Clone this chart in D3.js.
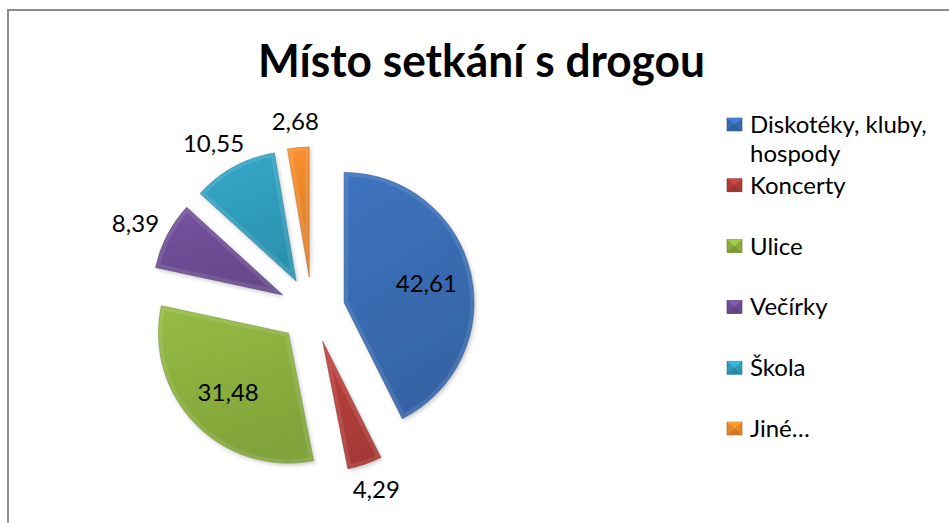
<!DOCTYPE html>
<html>
<head>
<meta charset="utf-8">
<script src="https://cdn.jsdelivr.net/npm/d3@7"></script>
<style>
  html, body { margin: 0; padding: 0; background: #fff; }
  svg { display: block; font-family: Lato, "Open Sans", sans-serif; }
</style>
</head>
<body>
<script>
// data
const categories = ["Diskotéky, kluby, hospody", "Koncerty", "Ulice", "Večírky", "Škola", "Jiné…"];
const values = [42.61, 4.29, 31.48, 8.39, 10.55, 2.68];
const labels = ["42,61", "4,29", "31,48", "8,39", "10,55", "2,68"];
const legendLines = [["Diskotéky, kluby,", "hospody"], ["Koncerty"], ["Ulice"], ["Večírky"], ["Škola"], ["Jiné…"]];
const colors = ["#3a6db4", "#b43e3a", "#8db23f", "#6f4f97", "#30a0bf", "#f08a2c"];
const insideLabels = [true, false, true, false, false, false];

const width = 949, height = 523;
const cx = 312, cy = 310, radius = 130, explode = 33;

const svg = d3.select("body").append("svg")
    .attr("width", width)
    .attr("height", height);

const defs = svg.append("defs");

const shadow = defs.append("filter").attr("id", "shadow")
    .attr("x", "-20%").attr("y", "-20%").attr("width", "140%").attr("height", "140%");
shadow.append("feDropShadow")
    .attr("dx", 1.5).attr("dy", 2).attr("stdDeviation", 2)
    .attr("flood-color", "#000").attr("flood-opacity", 0.22);

// chart frame
svg.append("rect")
    .attr("x", 8).attr("y", 10)
    .attr("width", 1000).attr("height", 700)
    .attr("fill", "none")
    .attr("stroke", "#8c8c8c")
    .attr("stroke-width", 2);

// title
svg.append("text")
    .attr("x", 481.5).attr("y", 77)
    .attr("text-anchor", "middle")
    .attr("font-weight", 700)
    .attr("font-size", 46)
    .attr("textLength", 447)
    .attr("lengthAdjust", "spacingAndGlyphs")
    .text("Místo setkání s drogou");

const pie = d3.pie().sort(null).value(d => d)(values);
const arc = d3.arc().innerRadius(0).outerRadius(radius);

// gradient per slice to fake the bevel
colors.forEach((c, i) => {
  const g = defs.append("linearGradient").attr("id", "grad" + i)
      .attr("x1", "0%").attr("y1", "0%").attr("x2", "30%").attr("y2", "100%");
  g.append("stop").attr("offset", "0%").attr("stop-color", d3.color(c).brighter(0.15));
  g.append("stop").attr("offset", "100%").attr("stop-color", d3.color(c).darker(0.25));
});

const slices = svg.append("g")
    .attr("transform", `translate(${cx},${cy})`);

const slice = slices.selectAll("g.slice")
  .data(pie)
  .join("g")
    .attr("class", "slice")
    .attr("transform", d => {
      const a = (d.startAngle + d.endAngle) / 2;
      return `translate(${Math.sin(a) * explode},${-Math.cos(a) * explode})`;
    });

slice.each(function(d, i) {
  const cp = defs.append("clipPath").attr("id", "clip" + i);
  cp.append("path").attr("d", arc(d));
});

slice.append("path")
    .attr("d", arc)
    .attr("fill", (d, i) => `url(#grad${i})`)
    .attr("filter", "url(#shadow)");

// inner lighter rim, clipped to the slice
slice.append("path")
    .attr("d", arc)
    .attr("fill", "none")
    .attr("stroke", "#fff")
    .attr("stroke-opacity", 0.1)
    .attr("stroke-width", 8)
    .attr("stroke-linejoin", "round")
    .attr("clip-path", (d, i) => `url(#clip${i})`);

slice.append("path")
    .attr("d", arc)
    .attr("fill", "none")
    .attr("stroke", (d, i) => d3.color(colors[i]).darker(0.7))
    .attr("stroke-opacity", 0.5)
    .attr("stroke-width", 1);

// data labels
slice.append("text")
    .attr("font-size", 24)
    .attr("fill", "#000")
    .attr("text-anchor", "middle")
    .attr("dy", "0.36em")
    .text((d, i) => labels[i])
    .each(function(d, i) {
      const a = (d.startAngle + d.endAngle) / 2;
      const ux = Math.sin(a), uy = -Math.cos(a);
      let x, y;
      if (insideLabels[i]) {
        x = ux * radius * 0.65;
        y = uy * radius * 0.65;
      } else {
        const bb = this.getBBox();
        const r = radius + 12;
        x = ux * r + ux * bb.width / 2;
        y = uy * r + uy * bb.height / 2;
      }
      d3.select(this).attr("x", x).attr("y", y);
    });

// legend
const legendY = d3.scalePoint().domain(d3.range(categories.length)).range([133, 437]);
const legend = svg.append("g");

const item = legend.selectAll("g")
  .data(categories)
  .join("g")
    .attr("transform", (d, i) => `translate(727,${legendY(i)})`);

item.each(function(d, i) {
  const g = d3.select(this);
  const c = d3.color(colors[i]);
  const s = 15, h = 13, top = -15;
  g.append("rect").attr("x", 0).attr("y", top).attr("width", s).attr("height", h)
      .attr("fill", c.darker(0.1)).attr("stroke", c.darker(0.8)).attr("stroke-width", 0.6);
  // pyramid-like bevel
  g.append("path")
      .attr("d", `M0,${top}L${s},${top}L${s / 2},${top + h / 2}Z`)
      .attr("fill", c.brighter(0.4));
  g.append("path")
      .attr("d", `M0,${top + h}L${s},${top + h}L${s / 2},${top + h / 2}Z`)
      .attr("fill", c.darker(0.4));
});

item.append("text")
    .attr("x", 23)
    .attr("font-size", 24)
    .attr("fill", "#000")
  .selectAll("tspan")
  .data((d, i) => legendLines[i])
  .join("tspan")
    .attr("x", 23)
    .attr("dy", (d, j) => j === 0 ? 0 : 29)
    .text(d => d);
</script>
</body>
</html>
